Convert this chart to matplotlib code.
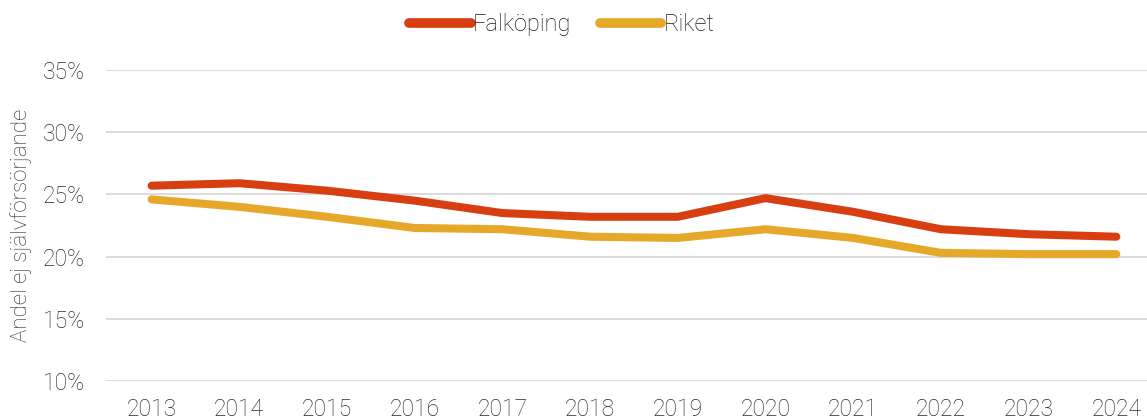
import matplotlib
matplotlib.use("Agg")
import matplotlib.pyplot as plt
import matplotlib.ticker as ticker

plt.rcParams['font.family'] = ['Roboto', 'DejaVu Sans']

# Andel ej självförsörjande, procent
years = [2013, 2014, 2015, 2016, 2017, 2018, 2019, 2020, 2021, 2022, 2023, 2024]
falkoping = [25.7, 25.9, 25.3, 24.5, 23.5, 23.2, 23.2, 24.7, 23.6, 22.2, 21.8, 21.6]
riket = [24.6, 24.0, 23.2, 22.3, 22.2, 21.6, 21.5, 22.2, 21.5, 20.3, 20.2, 20.2]

col_falk = '#D83F10'
col_riket = '#E6A829'
text_col = '#2b2b2b'

fig = plt.figure(figsize=(11.47, 4.2), dpi=100)
ax = fig.add_axes([106 / 1147, 1 - 381 / 420, 1 - 106 / 1147, (381 - 70) / 420])

x = range(len(years))
ax.plot(x, falkoping, color=col_falk, lw=5.8, solid_capstyle='round', label='Falköping')
ax.plot(x, riket, color=col_riket, lw=5.8, solid_capstyle='round', label='Riket')

ax.set_xlim(-0.52, 11.35)
ax.set_ylim(10, 35)
ax.set_xticks(list(x))
ax.set_xticklabels([str(y) for y in years])
ax.yaxis.set_major_locator(ticker.MultipleLocator(5))
ax.yaxis.set_major_formatter(ticker.FuncFormatter(lambda v, p: f'{v:.0f}%'))

ax.grid(axis='y', color='#D9D9D9', lw=1.3)
ax.set_axisbelow(True)
for s in ax.spines.values():
    s.set_visible(False)
ax.tick_params(axis='both', length=0, labelsize=16.5, labelcolor=text_col, pad=15)
ax.tick_params(axis='x', pad=12)
for lab in ax.get_xticklabels() + ax.get_yticklabels():
    lab.set_fontweight('light')

ax.set_ylabel('Andel ej självförsörjande', fontsize=16, color=text_col,
              fontweight='light', labelpad=8)

leg = fig.legend(loc='upper center', bbox_to_anchor=(0.49, 1.02), ncol=2, frameon=False,
                 fontsize=17, handlelength=2.6, handletextpad=0.1, columnspacing=1.2)
for line in leg.get_lines():
    line.set_linewidth(7)
for t in leg.get_texts():
    t.set_fontweight('light')
    t.set_color('#1a1a1a')

fig.savefig('out.png', dpi=100)
